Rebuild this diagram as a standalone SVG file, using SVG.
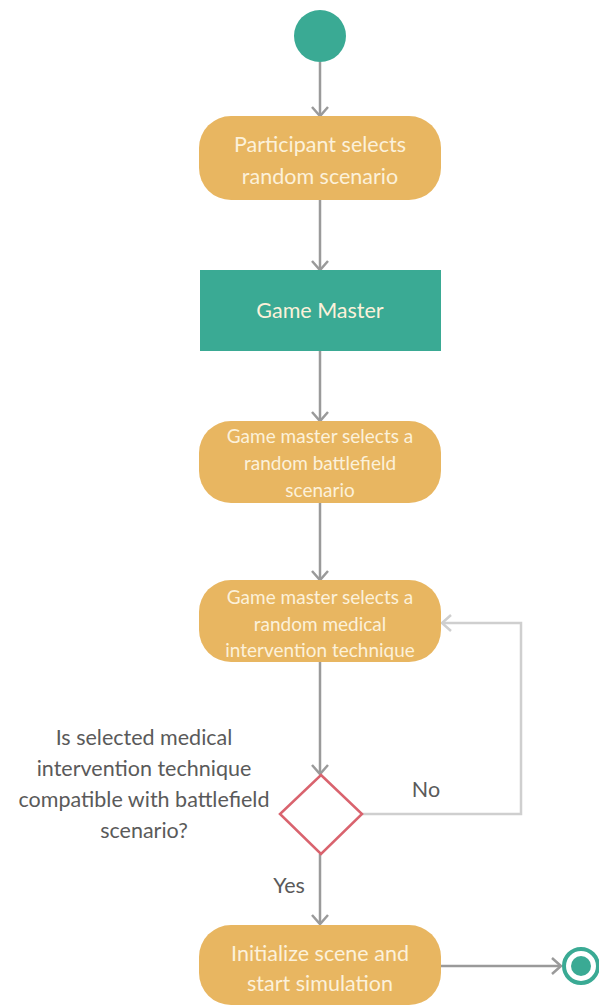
<svg xmlns="http://www.w3.org/2000/svg" width="599" height="1005" viewBox="0 0 599 1005">
<style>
.act{fill:#E8B661;}
.at{fill:#FCF1DA;font-family:Lato,"Open Sans",sans-serif;text-anchor:middle;}
.lbl{fill:#5a5a5a;font-family:Lato,"Open Sans",sans-serif;font-size:21.5px;}
.c{fill:none;stroke:#9a9a9a;stroke-width:2.5;}
.cl{fill:none;stroke:#cfcfcf;stroke-width:2.5;}
</style>
<defs>
<marker id="ah" viewBox="0 0 20 20" refX="10" refY="10" markerWidth="20" markerHeight="20" markerUnits="userSpaceOnUse" orient="auto">
<polyline points="1,2 10,10 1,18" fill="none" stroke="#9a9a9a" stroke-width="2.5"/>
</marker>
<marker id="ahl" viewBox="0 0 20 20" refX="10" refY="10" markerWidth="20" markerHeight="20" markerUnits="userSpaceOnUse" orient="auto">
<polyline points="1,2 10,10 1,18" fill="none" stroke="#cfcfcf" stroke-width="2.5"/>
</marker>
</defs>
<g id="connectors">
<line class="c" x1="320" y1="62" x2="320" y2="116" marker-end="url(#ah)"/>
<line class="c" x1="320" y1="200" x2="320" y2="270" marker-end="url(#ah)"/>
<line class="c" x1="320" y1="351" x2="320" y2="421" marker-end="url(#ah)"/>
<line class="c" x1="320" y1="503" x2="320" y2="580" marker-end="url(#ah)"/>
<line class="c" x1="320" y1="662" x2="320" y2="774" marker-end="url(#ah)"/>
<polyline class="cl" points="362,814 521,814 521,623 442,623" marker-end="url(#ahl)"/>
<line class="c" x1="320" y1="854" x2="320" y2="924" marker-end="url(#ah)"/>
<line class="c" x1="441" y1="966" x2="561" y2="966" marker-end="url(#ah)"/>
<text class="lbl" x="426" y="797" text-anchor="middle">No</text>
<text class="lbl" x="289" y="893" text-anchor="middle">Yes</text>
</g>
<g id="start">
<circle cx="320" cy="36" r="26" fill="#3AAA94"/>
</g>
<g id="n1">
<rect class="act" x="199" y="116" width="242" height="84" rx="32"/>
<text class="at" x="320" y="152" font-size="21.5">Participant selects</text>
<text class="at" x="320" y="184" font-size="21.5">random scenario</text>
</g>
<g id="n2">
<rect x="200" y="270" width="241" height="81" fill="#3AAA94"/>
<text class="at" x="320" y="318" font-size="21.5" fill="#E6F6EF">Game Master</text>
</g>
<g id="n3">
<rect class="act" x="199" y="421" width="242" height="82" rx="32"/>
<text class="at" x="320" y="443" font-size="19">Game master selects a</text>
<text class="at" x="320" y="470" font-size="19">random battlefield</text>
<text class="at" x="320" y="497" font-size="19">scenario</text>
</g>
<g id="n4">
<rect class="act" x="199" y="580" width="242" height="82" rx="32"/>
<text class="at" x="320" y="604" font-size="19">Game master selects a</text>
<text class="at" x="320" y="631" font-size="19">random medical</text>
<text class="at" x="320" y="657" font-size="19">intervention technique</text>
</g>
<g id="decision">
<polygon points="321,775 362,814 321,854 280,814" fill="#fff" stroke="#D9636E" stroke-width="2.5"/>
<text class="lbl" x="144" y="745" text-anchor="middle">Is selected medical</text>
<text class="lbl" x="144" y="776" text-anchor="middle">intervention technique</text>
<text class="lbl" x="144" y="807" text-anchor="middle">compatible with battlefield</text>
<text class="lbl" x="144" y="838" text-anchor="middle">scenario?</text>
</g>
<g id="n5">
<rect class="act" x="199" y="925" width="242" height="80" rx="32"/>
<text class="at" x="320" y="961" font-size="21.5">Initialize scene and</text>
<text class="at" x="320" y="991" font-size="21.5">start simulation</text>
</g>
<g id="end">
<circle cx="581" cy="966" r="17" fill="#fff" stroke="#3AAA94" stroke-width="4"/>
<circle cx="581" cy="966" r="10" fill="#3AAA94"/>
</g>
</svg>
